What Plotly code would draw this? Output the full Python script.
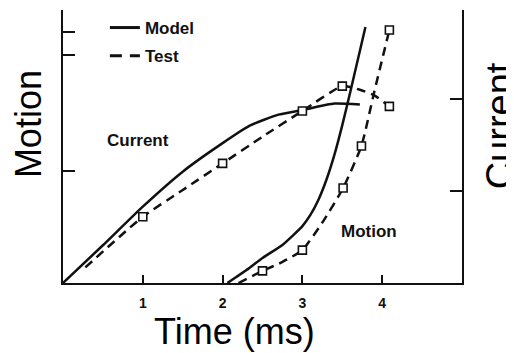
import plotly.graph_objects as go

# ---- data ----
# Current (right axis)
cur_model_t = [0, 0.5, 1, 1.5, 2, 2.34, 2.7, 3, 3.4, 3.72]
cur_model_v = [0, 0.41, 0.83, 1.21, 1.52, 1.71, 1.83, 1.88, 1.95, 1.94]
cur_test_t = [0.28, 1, 1.5, 2, 2.5, 3, 3.5, 3.72, 3.9, 4.09]
cur_test_v = [0.17, 0.72, 1.01, 1.30, 1.59, 1.87, 2.14, 2.10, 2.04, 1.92]
cur_test_pts_t = [1, 2, 3, 3.5, 4.09]
cur_test_pts_v = [0.72, 1.30, 1.87, 2.14, 1.92]

# Motion (left axis)
mot_model_t = [2.06, 2.3, 2.5, 2.75, 3.0, 3.1, 3.2, 3.3, 3.4, 3.5, 3.6, 3.79]
mot_model_v = [0, 0.58, 1.12, 1.70, 2.54, 3.04, 3.71, 4.60, 5.71, 7.05, 8.53, 11.43]
mot_test_t = [2.2, 2.5, 2.75, 3.0, 3.27, 3.51, 3.74, 3.9, 4.09]
mot_test_v = [0, 0.54, 0.94, 1.47, 2.81, 4.24, 6.12, 8.53, 11.3]
mot_test_pts_t = [2.5, 3.0, 3.51, 3.74, 4.09]
mot_test_pts_v = [0.54, 1.47, 4.24, 6.12, 11.3]

x_ticks = [1, 2, 3, 4]
left_ticks = [5, 10.2, 11.2]
right_ticks = [1, 2]

INK = "#111111"
LW = 2.5
DASH = "9px,6px"
marker = dict(symbol="square", size=8, color="white", line=dict(color=INK, width=1.6))

fig = go.Figure()

fig.add_trace(go.Scatter(x=cur_model_t, y=cur_model_v, yaxis="y2", mode="lines",
                         line=dict(color=INK, width=LW, shape="spline", smoothing=0.5),
                         showlegend=False))
fig.add_trace(go.Scatter(x=cur_test_t, y=cur_test_v, yaxis="y2", mode="lines",
                         line=dict(color=INK, width=LW, dash=DASH, shape="spline", smoothing=0.5),
                         showlegend=False))
fig.add_trace(go.Scatter(x=cur_test_pts_t, y=cur_test_pts_v, yaxis="y2", mode="markers",
                         marker=marker, showlegend=False))

fig.add_trace(go.Scatter(x=mot_model_t, y=mot_model_v, yaxis="y", mode="lines",
                         line=dict(color=INK, width=LW, shape="spline", smoothing=0.5),
                         showlegend=False))
fig.add_trace(go.Scatter(x=mot_test_t, y=mot_test_v, yaxis="y", mode="lines",
                         line=dict(color=INK, width=LW, dash=DASH, shape="spline", smoothing=0.5),
                         showlegend=False))
fig.add_trace(go.Scatter(x=mot_test_pts_t, y=mot_test_pts_v, yaxis="y", mode="markers",
                         marker=marker, showlegend=False))

# legend entries
fig.add_trace(go.Scatter(x=[None], y=[None], mode="lines", name="Model",
                         line=dict(color=INK, width=3), legendgroup="a"))
fig.add_trace(go.Scatter(x=[None], y=[None], mode="lines", name="Test",
                         line=dict(color=INK, width=3, dash="12px,8px"), legendgroup="b"))

axis_common = dict(showline=True, linewidth=2, linecolor=INK, ticks="inside",
                   tickwidth=2, tickcolor=INK, showgrid=False, zeroline=False,
                   automargin=False)

# the page body adds an 8px offset, so margins are reduced by 8px on left/top
fig.update_layout(
    width=514, height=353,
    margin=dict(l=55, r=60, t=2, b=78, autoexpand=False),
    paper_bgcolor="white", plot_bgcolor="white",
    font=dict(family="Arial, Liberation Sans, sans-serif", color=INK),
    xaxis=dict(range=[0, 5], tickvals=x_ticks, ticklen=8, ticklabelstandoff=6,
               tickfont=dict(size=14, family="Arial", color=INK, weight="bold"),
               **axis_common),
    yaxis=dict(range=[0, 12.19], tickvals=left_ticks, ticktext=["", "", ""],
               ticklen=12, **axis_common),
    yaxis2=dict(range=[0, 2.967], tickvals=right_ticks, ticktext=["", ""],
                ticklen=12, overlaying="y", side="right", **axis_common),
    showlegend=True,
    legend=dict(x=0.105, y=1.0, xanchor="left", yanchor="top",
                font=dict(size=17, family="Arial", color=INK, weight="bold"),
                tracegroupgap=3, bgcolor="rgba(0,0,0,0)", itemwidth=30),
)

fig.add_annotation(text="Current", x=0.94, y=1.55, xref="x", yref="y2",
                   showarrow=False, font=dict(size=17, weight="bold", color=INK))
fig.add_annotation(text="Motion", x=3.83, y=2.3, xref="x", yref="y",
                   showarrow=False, font=dict(size=17, weight="bold", color=INK))

fig.add_annotation(text="Time (ms)", x=0.4286, y=-0.176, xref="paper", yref="paper",
                   xanchor="center", yanchor="middle", showarrow=False,
                   font=dict(size=36, color="black"))
fig.add_annotation(text="Motion", x=-0.0877, y=0.582, xref="paper", yref="paper",
                   textangle=-90, xanchor="center", yanchor="middle", showarrow=False,
                   font=dict(size=36, color="black"))
fig.add_annotation(text="Current", x=1.096, y=0.575, xref="paper", yref="paper",
                   textangle=-90, xanchor="center", yanchor="middle", showarrow=False,
                   font=dict(size=38, color="black"))

fig.write_html("out.html")
